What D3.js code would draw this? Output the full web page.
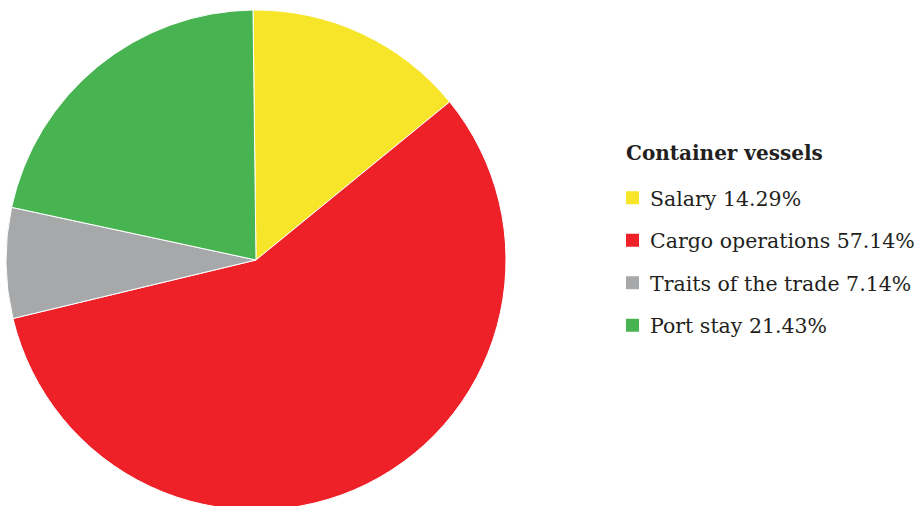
<!DOCTYPE html>
<html><head><meta charset="utf-8">
<script src="https://cdn.jsdelivr.net/npm/d3@7"></script>
<style>html,body{margin:0;padding:0;background:#fff;}</style>
</head><body>
<svg id="c" width="921" height="506"></svg>
<script>
const categories = ["Salary", "Cargo operations", "Traits of the trade", "Port stay"];
const values = [14.29, 57.14, 7.14, 21.43];
const colors = ["#F7E52A", "#EE2129", "#A7A8A9", "#47B451"];
const legendTitle = "Container vessels";

const svg = d3.select("#c");
const data = categories.map((c, i) => ({cat: c, value: values[i], color: colors[i]}));
const pie = d3.pie().value(d => d.value).sort(null).startAngle(-0.012).endAngle(2*Math.PI - 0.012);
const arc = d3.arc().innerRadius(0).outerRadius(250);
const g = svg.append("g").attr("transform", "translate(256,260)");
g.selectAll("path").data(pie(data)).join("path")
  .attr("d", arc).attr("fill", d => d.data.color)
  .attr("stroke", "#fff").attr("stroke-width", 1);

const font = "'DejaVu Serif', serif";
const lg = svg.append("g").attr("transform", "translate(626,0)");
lg.append("text").attr("x", 0).attr("y", 160).text(legendTitle)
  .attr("font-family", font).attr("font-weight", "bold").attr("font-size", 20).attr("fill", "#231F20");
const y = d3.scaleBand().domain(categories).range([177, 347]);
const rows = lg.selectAll("g.row").data(data).join("g").attr("class", "row")
  .attr("transform", d => `translate(0,${y(d.cat) + y.bandwidth()/2})`);
rows.append("rect").attr("x", 0).attr("y", -7).attr("width", 13).attr("height", 13).attr("fill", d => d.color);
rows.append("text").attr("x", 24).attr("y", 7.5).text(d => `${d.cat} ${d3.format(".2f")(d.value)}%`)
  .attr("font-family", font).attr("font-size", 20.5).attr("fill", "#231F20");
</script>
</body></html>
